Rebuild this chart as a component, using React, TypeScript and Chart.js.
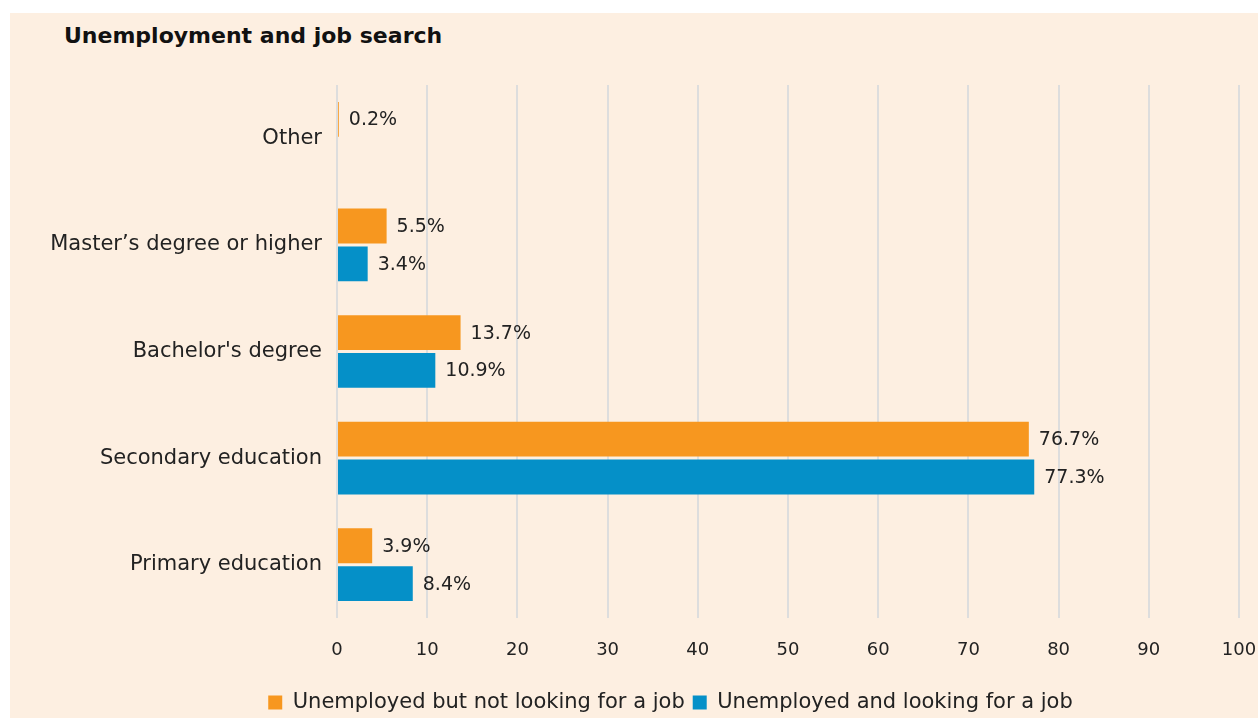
import React, { useEffect, useRef } from "react";
import { Chart, registerables } from "chart.js";

Chart.register(...registerables);

const categories = [
  "Other",
  "Master\u2019s degree or higher",
  "Bachelor's degree",
  "Secondary education",
  "Primary education",
];
const notLooking = [0.2, 5.5, 13.7, 76.7, 3.9];
const looking = [null, 3.4, 10.9, 77.3, 8.4];
const seriesNames = [
  "Unemployed but not looking for a job",
  "Unemployed and looking for a job",
];
const xTicks = [0, 10, 20, 30, 40, 50, 60, 70, 80, 90, 100];

const FONT = "'DejaVu Sans', 'Open Sans', sans-serif";
const TEXT = "#222222";

const valueLabels = {
  id: "valueLabels",
  afterDatasetsDraw(chart: any) {
    const ctx = chart.ctx;
    ctx.save();
    ctx.font = `19px ${FONT}`;
    ctx.fillStyle = TEXT;
    ctx.textAlign = "left";
    ctx.textBaseline = "middle";
    chart.data.datasets.forEach((ds: any, di: number) => {
      const meta = chart.getDatasetMeta(di);
      meta.data.forEach((bar: any, i: number) => {
        const v = ds.data[i];
        if (v === null || v === undefined) return;
        ctx.fillText(v.toFixed(1) + "%", bar.x + 10, bar.y + 1);
      });
    });
    ctx.restore();
  },
};

// nudge the bottom legend to the reference position
const legendShift = {
  id: "legendShift",
  afterLayout(chart: any) {
    const lg = chart.legend;
    if (!lg) return;
    lg.left += 36;
    lg.right += 36;
    lg.top += 5;
    lg.bottom += 5;
  },
};

export default function App() {
  const ref = useRef<HTMLCanvasElement>(null);
  useEffect(() => {
    if (!ref.current) return;
    const chart = new Chart(ref.current, {
      type: "bar",
      data: {
        labels: categories,
        datasets: [
          {
            label: seriesNames[0],
            data: notLooking,
            backgroundColor: "#F7971F",
            borderWidth: 0,
            barPercentage: 0.92,
            categoryPercentage: 0.71,
          },
          {
            label: seriesNames[1],
            data: looking as any,
            backgroundColor: "#0590C8",
            borderWidth: 0,
            barPercentage: 0.92,
            categoryPercentage: 0.71,
          },
        ],
      },
      options: {
        indexAxis: "y",
        animation: false,
        responsive: false,
        layout: { padding: { top: 72, left: 20, right: 19, bottom: 0 } },
        scales: {
          x: {
            min: 0,
            max: 100,
            afterBuildTicks: (axis: any) => {
              axis.ticks = xTicks.map((v) => ({ value: v }));
            },
            grid: { color: "#dddddd", lineWidth: 2, drawTicks: false },
            border: { display: false },
            ticks: {
              color: TEXT,
              font: { family: FONT, size: 18 },
              padding: 22,
              maxRotation: 0,
            },
            afterFit: (axis: any) => {
              axis.height = 61;
              axis.paddingRight = 0;
              axis.paddingLeft = 0;
            },
          },
          y: {
            grid: { display: false, drawTicks: false },
            border: { display: false },
            ticks: {
              color: TEXT,
              font: { family: FONT, size: 21 },
              padding: 15,
            },
            afterFit: (axis: any) => {
              axis.width = 307;
              axis.paddingTop = 0;
              axis.paddingBottom = 0;
            },
          },
        },
        plugins: {
          legend: {
            position: "bottom",
            labels: {
              boxWidth: 14,
              boxHeight: 14,
              padding: 8,
              color: TEXT,
              font: { family: FONT, size: 21 },
            },
          },
          tooltip: { enabled: false },
        },
      },
      plugins: [valueLabels, legendShift],
    });
    return () => chart.destroy();
  }, []);

  return (
    <div
      style={{
        position: "absolute",
        left: 10,
        top: 13,
        width: 1248,
        height: 705,
        background: "#FDEFE1",
      }}
    >
      <div
        style={{
          position: "absolute",
          left: 54,
          top: 10,
          fontFamily: FONT,
          fontWeight: 700,
          fontSize: 22,
          color: "#111",
        }}
      >
        Unemployment and job search
      </div>
      <canvas
        ref={ref}
        width={1248}
        height={705}
        style={{ position: "absolute", left: 0, top: 0 }}
      />
    </div>
  );
}
